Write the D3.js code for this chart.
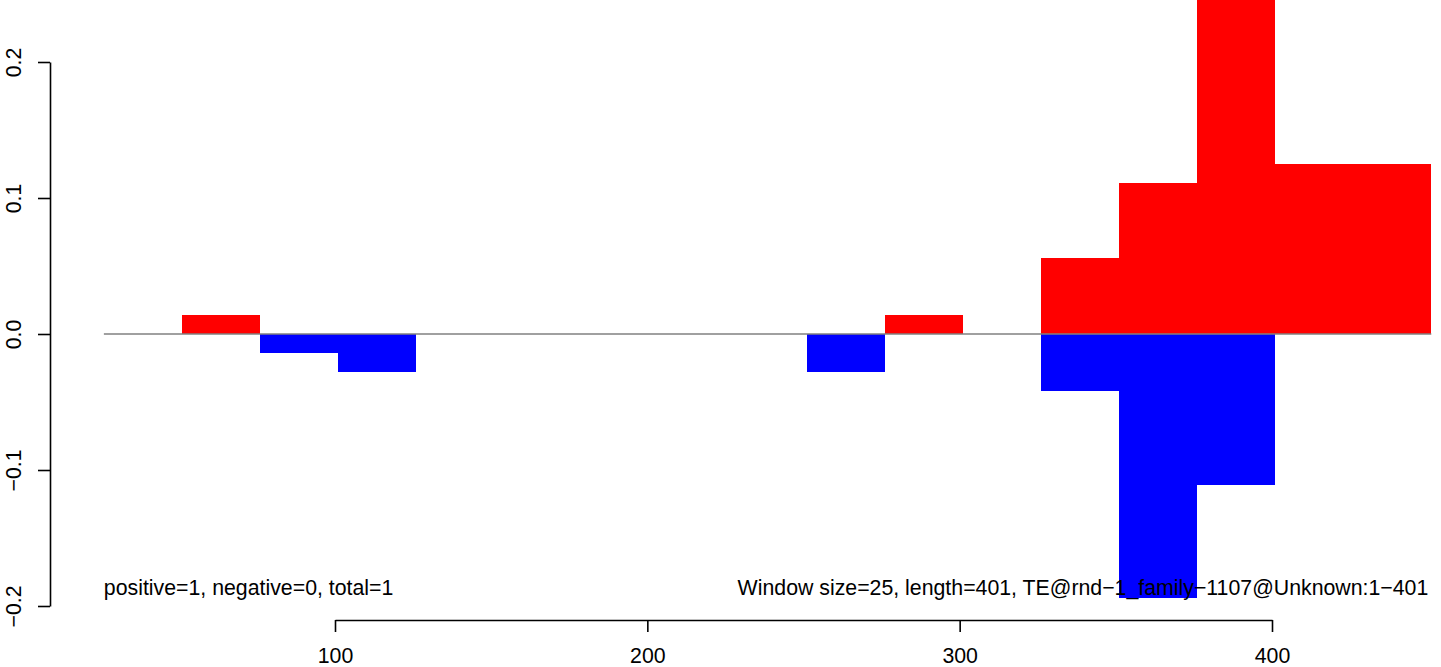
<!DOCTYPE html>
<html>
<head>
<meta charset="utf-8">
<script src="https://cdn.jsdelivr.net/npm/d3@7"></script>
<style>
  html, body { margin: 0; padding: 0; background: #fff; }
  svg { display: block; }
  text { font-family: "Liberation Sans", Arial, Helvetica, sans-serif; }
</style>
</head>
<body>
<svg id="chart" width="1441" height="667"></svg>
<script>
// ---- data ----
const windowStarts = [51, 76, 101, 251, 276, 326, 351, 376, 401];
const windowEnds   = [76, 101, 126, 276, 301, 351, 376, 401, 451];
const positiveVals = [0.0139, 0, 0, 0, 0.0139, 0.0556, 0.1111, 0.25, 0.125];
const negativeVals = [0, -0.0139, -0.0278, -0.0278, 0, -0.0417, -0.1944, -0.1111, 0];
const baselineRange = [26, 451];
const xTicks = [100, 200, 300, 400];
const yTicks = [-0.2, -0.1, 0.0, 0.1, 0.2];
const leftNote = "positive=1, negative=0, total=1";
const rightNote = "Window size=25, length=401, TE@rnd\u22121_family\u22121107@Unknown:1\u2212401";

// ---- scales ----
const svg = d3.select("#chart");
const x = d3.scaleLinear().domain([100, 400]).range([335, 1272]);
const y = d3.scaleLinear().domain([-0.2, 0.2]).range([606, 62]);
const fontSize = 21.3;

const bars = windowStarts.map((s, i) => ({ s, e: windowEnds[i], p: positiveVals[i], n: negativeVals[i] }));

// positive bars
svg.append("g").attr("shape-rendering", "crispEdges")
  .selectAll("rect").data(bars.filter(d => d.p !== 0)).join("rect")
  .attr("x", d => x(d.s)).attr("width", d => x(d.e) - x(d.s))
  .attr("y", d => y(d.p)).attr("height", d => y(0) - y(d.p))
  .attr("fill", "#ff0000");

// negative bars
svg.append("g").attr("shape-rendering", "crispEdges")
  .selectAll("rect").data(bars.filter(d => d.n !== 0)).join("rect")
  .attr("x", d => x(d.s)).attr("width", d => x(d.e) - x(d.s))
  .attr("y", y(0)).attr("height", d => y(d.n) - y(0))
  .attr("fill", "#0000ff");

// baseline
svg.append("line")
  .attr("x1", x(baselineRange[0])).attr("x2", x(baselineRange[1]))
  .attr("y1", y(0)).attr("y2", y(0))
  .attr("stroke", "#808080").attr("stroke-width", 1.3);

// y axis
const yAxis = svg.append("g").attr("transform", "translate(50,0)")
  .call(d3.axisLeft(y).tickValues(yTicks).tickFormat(d3.format(".1f")).tickSize(12).tickSizeOuter(0));
yAxis.selectAll("path, line").attr("stroke", "#000").attr("stroke-width", 1.6);
yAxis.selectAll("text")
  .attr("x", null).attr("dy", null).attr("y", null)
  .attr("transform", "translate(-29,0) rotate(-90)")
  .attr("text-anchor", "middle")
  .attr("font-size", fontSize).attr("font-family", null).attr("fill", "#000");

// x axis
const xAxis = svg.append("g").attr("transform", "translate(0,620)")
  .call(d3.axisBottom(x).tickValues(xTicks).tickFormat(d3.format("d")).tickSize(12).tickSizeOuter(0));
xAxis.selectAll("path, line").attr("stroke", "#000").attr("stroke-width", 1.6);
xAxis.selectAll("text")
  .attr("y", 43).attr("dy", null)
  .attr("font-size", fontSize).attr("font-family", null).attr("fill", "#000");

// annotations
svg.append("text").attr("x", x(baselineRange[0])).attr("y", 595)
  .attr("font-size", fontSize).attr("text-anchor", "start").text(leftNote);
svg.append("text").attr("x", x(baselineRange[1]) - 3).attr("y", 595)
  .attr("font-size", fontSize).attr("text-anchor", "end").text(rightNote);
</script>
</body>
</html>
